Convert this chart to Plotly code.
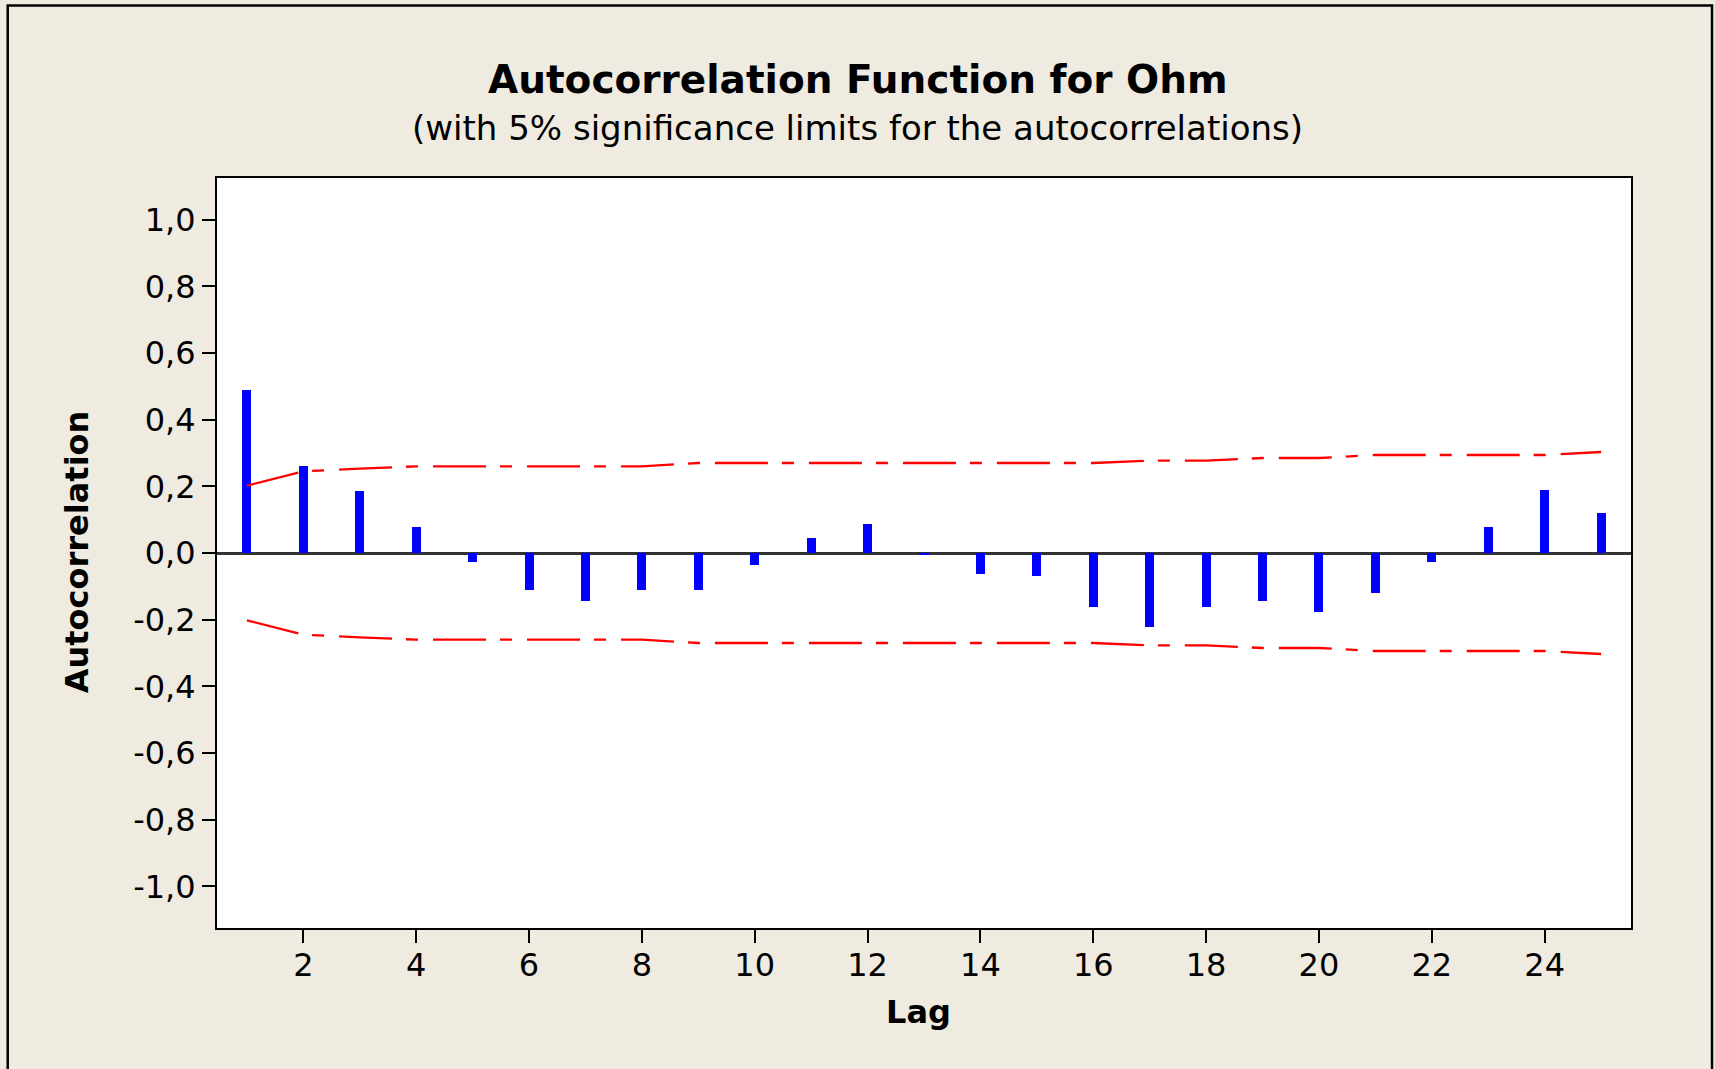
import plotly.graph_objects as go

# ---- data ----
lags = list(range(1, 26))
acf = [0.488, 0.262, 0.187, 0.078, -0.027, -0.110, -0.145, -0.110, -0.110, -0.035,
       0.045, 0.087, -0.004, -0.062, -0.070, -0.162, -0.222, -0.162, -0.145, -0.178,
       -0.120, -0.028, 0.078, 0.188, 0.119]
upper_limit = [0.202, 0.245, 0.253, 0.260, 0.260, 0.260, 0.260, 0.260, 0.270, 0.270,
               0.270, 0.270, 0.270, 0.270, 0.270, 0.270, 0.277, 0.277, 0.285, 0.285,
               0.294, 0.294, 0.294, 0.294, 0.303]
lower_limit = [-v for v in upper_limit]
y_tick_vals = [-1.0, -0.8, -0.6, -0.4, -0.2, 0.0, 0.2, 0.4, 0.6, 0.8, 1.0]
y_tick_text = ["-1,0", "-0,8", "-0,6", "-0,4", "-0,2", "0,0", "0,2", "0,4", "0,6", "0,8", "1,0"]
x_tick_vals = list(range(2, 25, 2))

title = "Autocorrelation Function for Ohm"
subtitle = "(with 5% significance limits for the autocorrelations)"
x_title = "Lag"
y_title = "Autocorrelation"

FONT = "DejaVu Sans"
BEIGE = "rgb(239,235,224)"
RED = "#FF0000"
BLUE = "#0000FF"
DASH = "53px,14px,12px,15px"

fig = go.Figure()

fig.add_trace(go.Bar(x=lags, y=acf, width=0.16,
                     marker=dict(color=BLUE, line=dict(width=0)),
                     showlegend=False, hoverinfo="x+y"))
fig.add_trace(go.Scatter(x=lags, y=upper_limit, mode="lines",
                         line=dict(color=RED, width=2.3, dash=DASH),
                         showlegend=False))
fig.add_trace(go.Scatter(x=lags, y=lower_limit, mode="lines",
                         line=dict(color=RED, width=2.3, dash=DASH),
                         showlegend=False))

axis_common = dict(showgrid=False, showline=True, linecolor="black", linewidth=2,
                   mirror=True, ticks="outside", ticklen=13, tickwidth=2,
                   tickcolor="black", tickfont=dict(family=FONT, size=32, color="black"))

fig.update_xaxes(range=[0.47, 25.53], tickvals=x_tick_vals, zeroline=False,
                 ticklabelstandoff=-5, **axis_common)
fig.update_yaxes(range=[-1.125, 1.125], tickvals=y_tick_vals, ticktext=y_tick_text,
                 zeroline=True, zerolinecolor="#333333", zerolinewidth=2.5,
                 ticklabelstandoff=0, **axis_common)

annotations = [
    dict(text="<b>%s</b>" % title, x=0.453, y=1.1307, xref="paper", yref="paper",
         xanchor="center", yanchor="middle", showarrow=False,
         font=dict(family=FONT, size=39, color="black")),
    dict(text=subtitle, x=0.453, y=1.0667, xref="paper", yref="paper",
         xanchor="center", yanchor="middle", showarrow=False,
         font=dict(family=FONT, size=34, color="black")),
    dict(text="<b>%s</b>" % x_title, x=0.4963, y=-0.112, xref="paper", yref="paper",
         xanchor="center", yanchor="middle", showarrow=False,
         font=dict(family=FONT, size=32, color="black")),
    dict(text="<b>%s</b>" % y_title, x=-0.099, y=0.501, xref="paper", yref="paper",
         xanchor="center", yanchor="middle", showarrow=False, textangle=-90,
         font=dict(family=FONT, size=32, color="black")),
]

fig.update_layout(
    width=1715, height=1069,
    margin=dict(l=217, r=84, t=178, b=141, pad=0),
    paper_bgcolor=BEIGE, plot_bgcolor="white",
    annotations=annotations,
    bargap=0,
    shapes=[dict(type="rect", xref="paper", yref="paper",
                 x0=-0.148, x1=1.0573, y0=-0.25, y1=1.23,
                 line=dict(color="black", width=2.5), fillcolor="rgba(0,0,0,0)",
                 layer="below")],
)

fig.write_html("out.html")
